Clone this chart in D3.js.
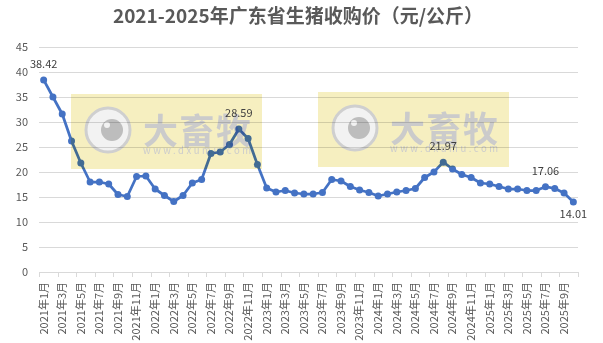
<!DOCTYPE html>
<html>
<head>
<meta charset="utf-8">
<script src="https://cdn.jsdelivr.net/npm/d3@7"></script>
<style>
body { margin: 0; background: #fff; }
svg { display: block; font-family: "Noto Sans CJK SC", "Noto Sans", sans-serif; }
</style>
</head>
<body>
<svg id="chart" width="603" height="343"></svg>
<script>
// months 2021-01 .. 2025-10
var months = [];
for (var y = 2021; y <= 2025; y++) {
    for (var m = 1; m <= 12; m++) {
        if (y == 2025 && m > 10) break;
        months.push(y + "年" + m + "月");
    }
}
var prices = [
    38.42, 35.0, 31.6, 26.2, 21.8, 18.0, 18.0, 17.6, 15.5, 15.1, 19.1, 19.2,
    16.6, 15.3, 14.1, 15.3, 17.8, 18.5, 23.7, 24.0, 25.5, 28.59, 26.7, 21.5,
    16.8, 16.0, 16.3, 15.8, 15.6, 15.6, 15.9, 18.5, 18.2, 17.1, 16.4, 15.9,
    15.2, 15.6, 16.0, 16.3, 16.7, 18.9, 20.0, 21.97, 20.6, 19.5, 18.9, 17.8,
    17.6, 17.1, 16.6, 16.6, 16.3, 16.3, 17.06, 16.7, 15.8, 14.01
];
var yTicks = [0, 5, 10, 15, 20, 25, 30, 35, 40, 45];
// which points get a value label and where
var labelled = [{i: 0, pos: "above"}, {i: 21, pos: "above"}, {i: 43, pos: "above"}, {i: 54, pos: "above"}, {i: 57, pos: "below"}];

var svg = d3.select("#chart");
var plotLeft = 39, plotRight = 578, plotTop = 47, plotBottom = 272;

var x = d3.scaleBand().domain(months).range([plotLeft, plotRight]);
var cx = function(d) { return x(d) + x.bandwidth() / 2; };
var yScale = d3.scaleLinear().domain([0, 45]).range([plotBottom, plotTop]);

svg.append("text")
    .attr("x", 298).attr("y", 23)
    .attr("text-anchor", "middle")
    .attr("font-size", 19).attr("font-weight", "bold")
    .attr("fill", "#595959")
    .text("2021-2025年广东省生猪收购价（元/公斤）");

// grid
svg.selectAll(".grid")
    .data(yTicks.slice(1))
    .enter().append("line")
    .attr("x1", plotLeft).attr("x2", plotRight)
    .attr("y1", function(d) { return Math.round(yScale(d)) + 0.5; })
    .attr("y2", function(d) { return Math.round(yScale(d)) + 0.5; })
    .attr("stroke", "#d9d9d9");

svg.selectAll(".ylab")
    .data(yTicks)
    .enter().append("text")
    .attr("x", 28).attr("y", function(d) { return yScale(d); })
    .attr("dy", "0.35em")
    .attr("text-anchor", "end")
    .attr("font-size", 11).attr("fill", "#595959")
    .text(function(d) { return d; });

// x axis
svg.append("line")
    .attr("x1", plotLeft).attr("x2", plotRight)
    .attr("y1", plotBottom + 0.5).attr("y2", plotBottom + 0.5)
    .attr("stroke", "#d9d9d9");
var every2 = months.filter(function(d, i) { return i % 2 == 0; });
svg.selectAll(".tick")
    .data(every2.concat(["end"]))
    .enter().append("line")
    .attr("x1", function(d) { return Math.round(d == "end" ? plotRight : x(d)) + 0.5; })
    .attr("x2", function(d) { return Math.round(d == "end" ? plotRight : x(d)) + 0.5; })
    .attr("y1", plotBottom).attr("y2", plotBottom + 5)
    .attr("stroke", "#d9d9d9");
svg.selectAll(".xlab")
    .data(every2)
    .enter().append("text")
    .attr("transform", function(d) { return "translate(" + cx(d) + "," + (plotBottom + 10) + ") rotate(-90)"; })
    .attr("dy", "0.35em")
    .attr("text-anchor", "end")
    .attr("font-size", 11).attr("fill", "#595959")
    .text(function(d) { return d; });

// series
var pts = prices.map(function(v, i) { return {m: months[i], v: v}; });
var line = d3.line()
    .x(function(d) { return cx(d.m); })
    .y(function(d) { return yScale(d.v); });
svg.append("path")
    .datum(pts)
    .attr("d", line)
    .attr("fill", "none")
    .attr("stroke", "#4472c4")
    .attr("stroke-width", 2.75)
    .attr("stroke-linejoin", "round");
svg.selectAll(".dot")
    .data(pts)
    .enter().append("circle")
    .attr("cx", function(d) { return cx(d.m); })
    .attr("cy", function(d) { return yScale(d.v); })
    .attr("r", 3.5)
    .attr("fill", "#4472c4");

// watermarks (multiplied over the plot, like the source image)
var marks = [{x: 71, y: 94}, {x: 318, y: 92}];
marks.forEach(function(w) {
    var g = svg.append("g").style("mix-blend-mode", "multiply");
    g.append("rect")
        .attr("x", w.x).attr("y", w.y)
        .attr("width", 191).attr("height", 75)
        .attr("fill", "#f6efc0");
    g.append("circle")
        .attr("cx", w.x + 37).attr("cy", w.y + 36).attr("r", 22)
        .attr("fill", "#f2f2f2").attr("stroke", "#cfcfcf").attr("stroke-width", 3);
    g.append("circle")
        .attr("cx", w.x + 41).attr("cy", w.y + 36).attr("r", 11)
        .attr("fill", "#bdbdbd");
    g.append("circle")
        .attr("cx", w.x + 36).attr("cy", w.y + 31).attr("r", 3)
        .attr("fill", "#f2f2f2");
    g.append("text")
        .attr("x", w.x + 72).attr("y", w.y + 50)
        .attr("font-size", 35).attr("font-weight", "bold")
        .attr("fill", "#cbcbcb")
        .attr("textLength", 108)
        .text("大畜牧");
    g.append("text")
        .attr("x", w.x + 72).attr("y", w.y + 60)
        .attr("font-size", 9.5)
        .attr("fill", "#cccccc")
        .attr("textLength", 108)
        .text("www.dxumu.com");
});

// value labels above the watermark
svg.selectAll(".vlab")
    .data(labelled)
    .enter().append("text")
    .attr("x", function(d) { return cx(months[d.i]); })
    .attr("y", function(d) { return yScale(prices[d.i]) + (d.pos == "above" ? -16 : 12); })
    .attr("dy", "0.35em")
    .attr("text-anchor", "middle")
    .attr("font-size", 11).attr("fill", "#404040")
    .text(function(d) { return prices[d.i].toFixed(2); });
</script>
</body>
</html>
